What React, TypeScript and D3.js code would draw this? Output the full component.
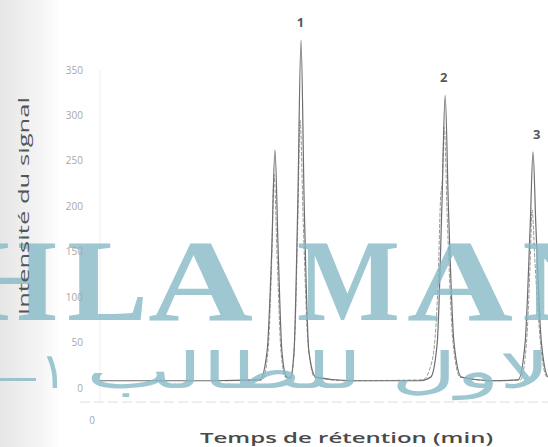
import { useEffect, useRef } from 'react';
import * as d3 from 'd3';

const W = 548;
const H = 447;

const Y_TICKS = [0, 50, 100, 150, 200, 250, 300, 350];

// main trace: [retention time (min), signal]
const TRACE_A: [number, number][] = [
  [0.1, 8], [2.5, 8], [3.55, 9], [3.7, 40], [3.8, 150], [3.87, 262], [3.94, 150], [4.02, 40],
  [4.12, 12], [4.2, 11], [4.28, 40], [4.36, 200], [4.43, 383], [4.5, 200], [4.6, 40], [4.75, 12],
  [5.5, 8], [7.0, 8], [7.22, 12], [7.36, 50], [7.46, 200], [7.53, 322], [7.6, 200], [7.72, 50],
  [7.88, 12], [8.5, 8], [9.1, 9], [9.25, 50], [9.36, 180], [9.42, 260], [9.48, 180], [9.6, 50],
  [9.75, 12], [10.2, 8],
];

// second, overlaid trace
const TRACE_B: [number, number][] = [
  [2.8, 8], [3.6, 9], [3.72, 40], [3.8, 140], [3.85, 235], [3.92, 140], [4.0, 40], [4.1, 12],
  [4.22, 12], [4.3, 60], [4.36, 180], [4.41, 295], [4.48, 180], [4.58, 50], [4.72, 12], [5.4, 8],
  [7.05, 9], [7.25, 30], [7.38, 120], [7.43, 207], [7.47, 230], [7.51, 287], [7.58, 180], [7.7, 50],
  [7.85, 12], [8.6, 8], [9.15, 9], [9.28, 50], [9.36, 140], [9.4, 196], [9.46, 140], [9.58, 50],
  [9.72, 12], [10.2, 8],
];

const PEAK_LABELS = [
  { label: '1', t: 4.42, v: 383 },
  { label: '2', t: 7.5, v: 322 },
  { label: '3', t: 9.5, v: 260 },
];

const WM_LETTERS = [
  { ch: 'H', x0: -30, x1: 57 },
  { ch: 'L', x0: 67, x1: 148 },
  { ch: 'A', x0: 148, x1: 253 },
  { ch: 'M', x0: 297, x1: 400 },
  { ch: 'A', x0: 407, x1: 513 },
  { ch: 'N', x0: 522, x1: 620 },
];

export default function App() {
  const svgRef = useRef<SVGSVGElement>(null);

  useEffect(() => {
    if (!svgRef.current) return;
    const svg = d3.select(svgRef.current);
    svg.selectAll('*').remove();

    const x = d3.scaleLinear().domain([0, 10]).range([95, 560]);
    const y = d3.scaleLinear().domain([0, 350]).range([388, 70]);

    const defs = svg.append('defs');
    const grad = defs.append('linearGradient').attr('id', 'scanShade')
      .attr('x1', 0).attr('x2', 1).attr('y1', 0).attr('y2', 0);
    grad.append('stop').attr('offset', 0).attr('stop-color', '#e6e6e6');
    grad.append('stop').attr('offset', 0.65).attr('stop-color', '#f4f4f4');
    grad.append('stop').attr('offset', 1).attr('stop-color', '#ffffff');

    svg.append('rect').attr('width', W).attr('height', H).attr('fill', '#ffffff');
    svg.append('rect').attr('width', 60).attr('height', H).attr('fill', 'url(#scanShade)');

    // faint axes
    svg.append('line')
      .attr('x1', 100).attr('x2', 100).attr('y1', y(350)).attr('y2', 402)
      .attr('stroke', '#efefef').attr('stroke-width', 1);
    svg.append('line')
      .attr('x1', 80).attr('x2', W).attr('y1', 402).attr('y2', 402)
      .attr('stroke', '#dedede').attr('stroke-width', 1).attr('stroke-dasharray', '10 4');

    const line = d3.line<[number, number]>()
      .x(d => x(d[0])).y(d => y(d[1]))
      .curve(d3.curveMonotoneX);

    svg.append('path').attr('d', line(TRACE_B))
      .attr('fill', 'none').attr('stroke', '#9a9a9a')
      .attr('stroke-width', 1).attr('stroke-dasharray', '4 1.5');
    svg.append('path').attr('d', line(TRACE_A))
      .attr('fill', 'none').attr('stroke', '#6e6e6e').attr('stroke-width', 1.2);

    // watermark of the scanned source
    const wm = svg.append('g').attr('fill', '#86bac6').attr('opacity', 0.8);
    wm.selectAll('text.wm').data(WM_LETTERS).join('text')
      .attr('class', 'wm')
      .attr('x', d => d.x0).attr('y', 320)
      .attr('font-family', 'Liberation Serif, serif').attr('font-weight', 700).attr('font-size', 116)
      .attr('textLength', d => d.x1 - d.x0).attr('lengthAdjust', 'spacingAndGlyphs')
      .text(d => d.ch);
    wm.append('rect').attr('x', 0).attr('y', 378).attr('width', 36).attr('height', 3);
    wm.append('text')
      .attr('x', 40).attr('y', 388)
      .attr('font-family', 'DejaVu Sans, sans-serif').attr('font-size', 50).attr('font-weight', 300)
      .text('١');
    wm.append('text')
      .attr('x', 86).attr('y', 388)
      .attr('font-family', 'DejaVu Sans, sans-serif').attr('font-size', 50).attr('font-weight', 300)
      .attr('textLength', 466).attr('lengthAdjust', 'spacingAndGlyphs')
      .text('لاول للطالب');

    svg.append('g').selectAll('text').data(Y_TICKS).join('text')
      .attr('x', 83).attr('y', d => y(d) + 3.5)
      .attr('text-anchor', 'end')
      .attr('font-family', 'Open Sans, sans-serif').attr('font-size', 10)
      .attr('fill', '#a8a8a8')
      .text(d => d);

    svg.append('text')
      .attr('x', 92).attr('y', 424).attr('text-anchor', 'middle')
      .attr('font-family', 'Open Sans, sans-serif').attr('font-size', 10)
      .attr('fill', '#a8a8a8').text('0');

    svg.append('g').selectAll('text').data(PEAK_LABELS).join('text')
      .attr('x', d => x(d.t)).attr('y', d => y(d.v) - 13)
      .attr('text-anchor', 'middle')
      .attr('font-family', 'Open Sans, sans-serif').attr('font-size', 13).attr('font-weight', 700)
      .attr('fill', '#585858')
      .text(d => d.label);

    svg.append('text')
      .attr('transform', 'translate(29,206) rotate(-90)')
      .attr('text-anchor', 'middle')
      .attr('font-family', 'Open Sans, sans-serif').attr('font-size', 15).attr('font-weight', 400)
      .attr('fill', '#555555')
      .attr('textLength', 218).attr('lengthAdjust', 'spacingAndGlyphs')
      .text('Intensité du signal');

    svg.append('text')
      .attr('x', 200).attr('y', 443)
      .attr('font-family', 'Open Sans, sans-serif').attr('font-size', 15).attr('font-weight', 600)
      .attr('fill', '#4a4a4a')
      .attr('textLength', 293).attr('lengthAdjust', 'spacingAndGlyphs')
      .text('Temps de rétention (min)');
  }, []);

  return (
    <svg ref={svgRef} width={W} height={H}
      style={{ position: 'absolute', left: 0, top: 0, display: 'block' }} />
  );
}
